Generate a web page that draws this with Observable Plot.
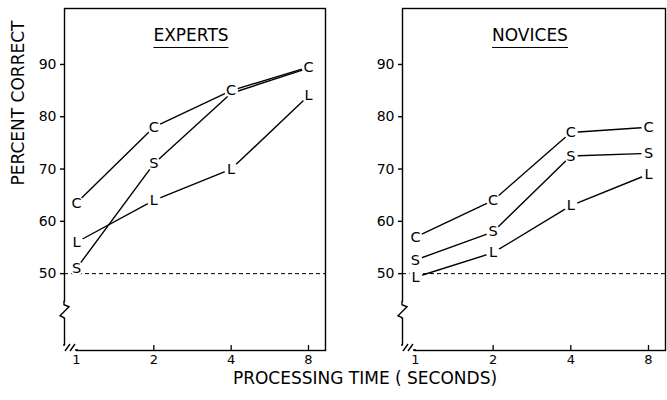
<!DOCTYPE html>
<html>
<head>
<meta charset="utf-8">
<script src="https://cdn.jsdelivr.net/npm/d3@7"></script>
<script src="https://cdn.jsdelivr.net/npm/@observablehq/plot@0.6"></script>
<style>
  body { margin: 0; background: #fff; }
  #wrap { position: relative; width: 667px; height: 400px; font-family: "DejaVu Sans", sans-serif; color: #000; overflow: hidden; }
  .panel { position: absolute; top: 0; }
  .title { position: absolute; top: 27px; font-size: 17px; line-height: 17px; transform: translateX(-50%);
           border-bottom: 1.5px solid #000; padding-bottom: 3px; white-space: nowrap; }
  .xlabel { position: absolute; top: 370px; left: 365px; transform: translateX(-50%); font-size: 17px; line-height: 17px; white-space: nowrap; }
</style>
</head>
<body>
<div id="wrap">
  <div id="left" class="panel" style="left:0"></div>
  <div id="right" class="panel" style="left:340px"></div>
  <div class="title" style="left:191px">EXPERTS</div>
  <div class="title" style="left:530px">NOVICES</div>
  <div class="xlabel">PROCESSING TIME ( SECONDS)</div>
</div>
<script>
// ---- data ----
const times = [1, 2, 4, 8];
const conditions = ["C", "S", "L"];
const expertsC = [63.5, 78, 85, 89.5];
const expertsS = [51, 71, 84.5, 89.3];
const expertsL = [56, 64, 70, 84];
const novicesC = [57, 64, 77, 78];
const novicesS = [52.6, 58, 72.5, 73];
const novicesL = [49.3, 54, 63, 69];
const yTicks = [50, 60, 70, 80, 90];
const xTicks = [1, 2, 4, 8];
const chanceLevel = 50;
const axisBreak = 43;
const yLabel = "PERCENT CORRECT";
// labels hidden where two series coincide (S under C for experts)
const expertsHidden = [["S", 4], ["S", 8]];

function makeRows(series, hidden) {
  const rows = [];
  conditions.forEach((c, i) => series[i].forEach((v, j) => rows.push({
    cond: c, time: times[j], pct: v,
    show: !hidden.some(([hc, ht]) => hc === c && ht === times[j])
  })));
  return rows;
}

function breaks(index, scales, values, dim) {
  const x0 = dim.marginLeft;
  const yb = scales.y(axisBreak);
  const yB = dim.height - dim.marginBottom;
  const g = d3.create("svg:g").attr("fill", "none").attr("stroke", "black").attr("stroke-width", 1.4);
  g.append("rect").attr("x", x0 - 3).attr("y", yb - 8).attr("width", 6).attr("height", 16)
    .attr("fill", "white").attr("stroke", "none");
  g.append("path").attr("d", `M${x0},${yb - 9}L${x0},${yb - 5}L${x0 + 5},${yb - 3}L${x0 - 4},${yb + 6}L${x0},${yb + 8}L${x0},${yb + 9}`);
  g.append("rect").attr("x", x0 - 3).attr("y", yB - 5).attr("width", 15).attr("height", 9)
    .attr("fill", "white").attr("stroke", "none");
  g.append("path").attr("d", `M${x0},${yB - 6}L${x0},${yB - 4}M${x0 + 1},${yB + 1}L${x0 + 6},${yB - 6}M${x0 + 6},${yB + 1}L${x0 + 11},${yB - 6}M${x0 + 11},${yB}L${x0 + 14},${yB}`);
  return g.node();
}

function panel(series, hidden, m) {
  const rows = makeRows(series, hidden);
  const shown = rows.filter(d => d.show);
  const height = 372, marginTop = 8, marginBottom = 22;
  const frameH = height - marginTop - marginBottom;
  const marks = [
    Plot.ruleY([chanceLevel], {strokeDasharray: "4,3", strokeWidth: 1}),
    Plot.frame({stroke: "black", strokeWidth: 1.4}),
    Plot.axisY(yTicks, {tickSize: 4, tickPadding: 4, fontSize: 14, label: null, strokeWidth: 1.4}),
    Plot.tickX(xTicks.slice(1), {x: d => d, insetTop: frameH - 5, strokeWidth: 1.3}),
    Plot.axisX(xTicks, {tickSize: 0, tickPadding: 4, fontSize: 13, label: null, tickFormat: d => String(d)}),
    Plot.line(rows, {x: "time", y: "pct", z: "cond", stroke: "black", strokeWidth: 1.4}),
    Plot.dot(shown, {x: "time", y: "pct", r: 7, fill: "white", stroke: null}),
    Plot.text(shown, {x: "time", y: "pct", text: "cond", fontSize: 14.5,
      fill: "black", stroke: "white", strokeWidth: 2.5}),
    breaks
  ];
  if (m.yLabel) marks.push(Plot.text([m.yLabel], {frameAnchor: "left", dx: -46, dy: 6, rotate: -90, fontSize: 17}));
  return Plot.plot({
    width: m.width, height, marginLeft: m.left, marginRight: m.right, marginTop, marginBottom,
    style: {fontFamily: "DejaVu Sans, sans-serif", background: "white", color: "black", overflow: "visible"},
    x: {type: "log", base: 2, domain: m.xDomain, axis: null},
    y: {domain: [35.3, 100.7], axis: null},
    marks
  });
}

document.getElementById("left").append(panel([expertsC, expertsS, expertsL], expertsHidden,
  {width: 340, left: 64, right: 15, xDomain: [Math.pow(2, -0.155), Math.pow(2, 3.22)], yLabel}));
document.getElementById("right").append(panel([novicesC, novicesS, novicesL], [],
  {width: 327, left: 62, right: 2, xDomain: [Math.pow(2, -0.167), Math.pow(2, 3.219)]}));
</script>
</body>
</html>
